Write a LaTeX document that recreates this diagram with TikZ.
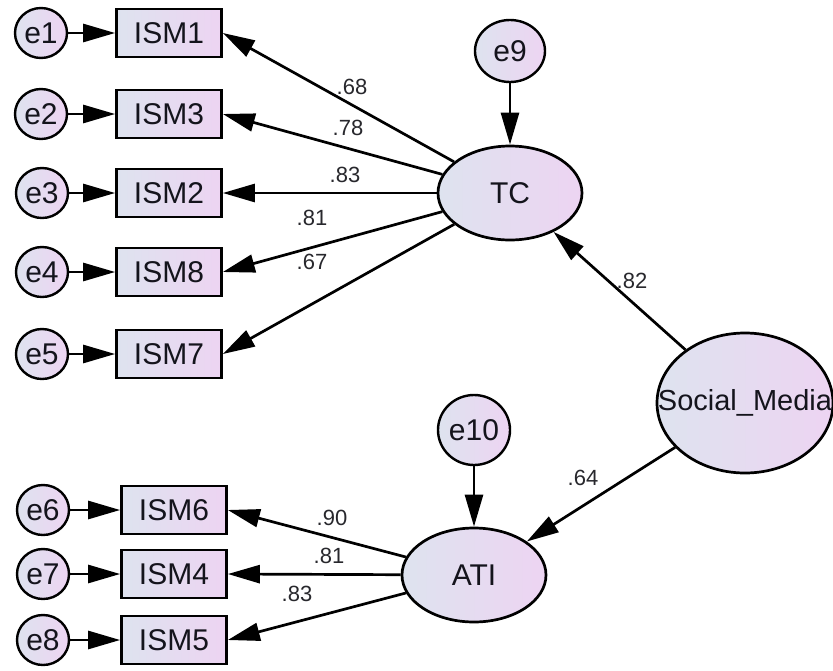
\documentclass[tikz,border=0pt]{standalone}
\usepackage{fontspec}
\setmainfont{Liberation Sans}
\usetikzlibrary{shapes.geometric,arrows.meta}
\definecolor{cL}{RGB}{222,227,239}
\definecolor{cR}{RGB}{237,212,242}
\definecolor{txt}{RGB}{20,20,28}
\definecolor{lbltxt}{RGB}{40,40,45}
\newcommand{\fsz}[1]{\fontsize{#1}{#1}\selectfont}
\tikzset{
  obs/.style={rectangle, draw=black, line width=2.7pt, left color=cL, right color=cR,
    minimum width=105pt, minimum height=48pt, inner sep=0pt, font=\fsz{30}, text=txt},
  err/.style={ellipse, draw=black, line width=2.4pt, left color=cL, right color=cR,
    minimum width=52pt, minimum height=50pt, inner sep=0pt, font=\fsz{30}, text=txt},
  lat/.style={ellipse, draw=black, line width=2.7pt, left color=cL, right color=cR,
    inner sep=0pt, font=\fsz{30}, text=txt},
  conn/.style={draw=black, line width=2.7pt, -{Triangle[length=32pt,width=18pt]}},
  lbl/.style={font=\fsz{22}, text=lbltxt, inner sep=0pt}
}
\begin{document}
\begin{tikzpicture}[x=1pt,y=-1pt]
\fill[white] (0,0) rectangle (833,670);
\useasboundingbox (0,0) rectangle (833,670);

% observed variables (top block)
\node[obs] (ISM1) at (169,33) {ISM1};
\node[obs] (ISM3) at (169,114) {ISM3};
\node[obs] (ISM2) at (169,193) {ISM2};
\node[obs] (ISM8) at (169,272) {ISM8};
\node[obs] (ISM7) at (169,354) {ISM7};
% observed variables (bottom block)
\node[obs] (ISM6) at (174,510) {ISM6};
\node[obs] (ISM4) at (174,574) {ISM4};
\node[obs] (ISM5) at (174,640) {ISM5};

% error terms
\node[err] (e1) at (41,33) {e1};
\node[err] (e2) at (41,114) {e2};
\node[err] (e3) at (42,193) {e3};
\node[err] (e4) at (42,272) {e4};
\node[err] (e5) at (42,354) {e5};
\node[err] (e6) at (43,510) {e6};
\node[err] (e7) at (43,574) {e7};
\node[err] (e8) at (43,640) {e8};
\node[err, minimum width=70pt, minimum height=62pt] (e9) at (510,51) {e9};
\node[err, minimum width=72pt, minimum height=70pt] (e10) at (474,430) {e10};

% latent variables
\node[lat, minimum width=144pt, minimum height=94pt] (TC) at (510,193) {TC};
\node[lat, minimum width=144pt, minimum height=94pt] (ATI) at (474,575) {ATI};
\node[lat, minimum width=176pt, minimum height=140pt] (SM) at (745,403) {};
\node[font=\fsz{29}, text=txt, inner sep=0pt] (SMt) at (SM.center) {Social\_Media};

% error arrows
\foreach \e/\m in {e1/ISM1,e2/ISM3,e3/ISM2,e4/ISM8,e5/ISM7,e6/ISM6,e7/ISM4,e8/ISM5}
  \draw[conn] (\e) -- (\m);
\draw[conn] (e9) -- (TC);
\draw[conn] (e10) -- (ATI);

% loadings
\foreach \m in {ISM1,ISM3,ISM2,ISM8,ISM7}
  \draw[conn] (TC) -- (\m.east);
\foreach \m in {ISM6,ISM4,ISM5}
  \draw[conn] (ATI) -- (\m.east);
\draw[conn] (SM) -- (TC);
\draw[conn] (SM) -- (ATI);

% coefficient labels
\node[lbl] (l68) at (352,87) {.68};
\node[lbl] (l78) at (348,128) {.78};
\node[lbl] (l83a) at (345,175) {.83};
\node[lbl] (l81a) at (312,218) {.81};
\node[lbl] (l67) at (312,262) {.67};
\node[lbl] (l82) at (632,281) {.82};
\node[lbl] (l64) at (583,478) {.64};
\node[lbl] (l90) at (332,518) {.90};
\node[lbl] (l81b) at (329,556) {.81};
\node[lbl] (l83b) at (297,594) {.83};
\end{tikzpicture}
\end{document}
